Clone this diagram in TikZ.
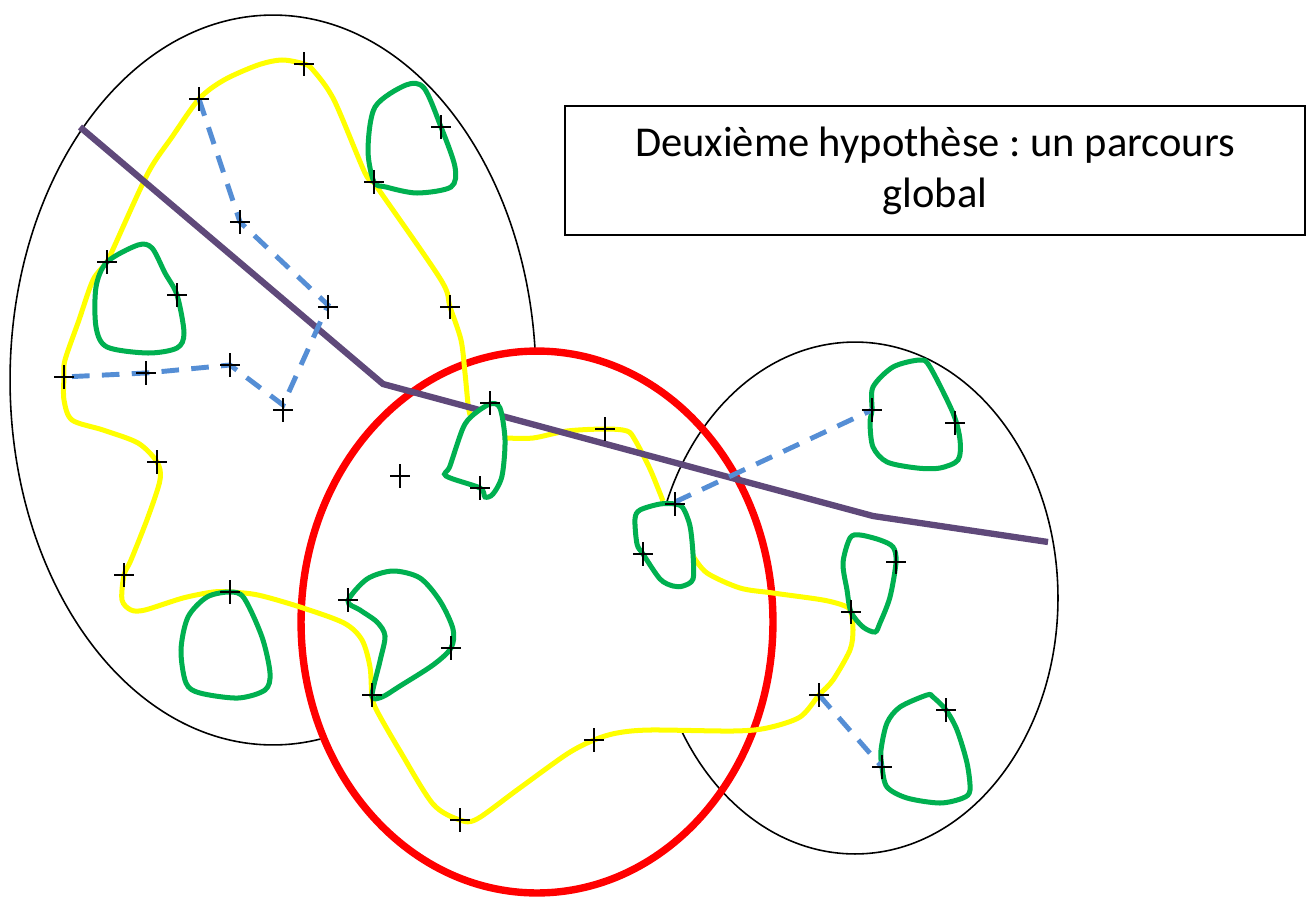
\documentclass[tikz,border=0pt]{standalone}
\usepackage{fontspec}
\setmainfont{Carlito}
\usepackage{tikz}
\frenchspacing
\definecolor{loopgreen}{HTML}{00B050}
\definecolor{pathblue}{HTML}{558ED5}
\definecolor{cutpurple}{HTML}{5F497A}
\definecolor{tourred}{HTML}{FF0000}
\definecolor{touryellow}{HTML}{FFFF00}

\begin{document}
\begin{tikzpicture}[x=0.02cm,y=-0.02cm,
    zone/.style={draw=black,line width=0.9pt},
    tour/.style={draw=touryellow,line width=2.85pt},
    loopline/.style={draw=loopgreen,fill=white,line width=2.85pt},
    link/.style={draw=pathblue,line width=2.8pt,dash pattern=on 10pt off 7pt},
    cutline/.style={draw=cutpurple,line width=3.6pt},
    crossline/.style={draw=black,line width=1.4pt},
    titlebox/.style={draw,line width=0.9pt,minimum width=14.8cm,
                     minimum height=2.58cm,align=center,
                     font=\fontsize{24.2}{29}\selectfont}]
    \useasboundingbox (0,0) rectangle (1307,899);

    % zones
    \draw[zone,fill=white] (273,380) ellipse [x radius=5.26cm,y radius=7.3cm];
    \fill[white] (537,622) ellipse [x radius=4.72cm,y radius=5.42cm];
    \draw[zone] (855,598) ellipse [x radius=4.06cm,y radius=5.12cm];

    % global tour
    \fill[white] plot[smooth cycle] coordinates {(507,438) (533,438) (567,431)
        (605,429) (627,431) (635,440) (650,469) (663,501) (693,556) (707,573)
        (740,588) (773,593) (823,600) (845,606) (851,612) (853,630) (850,650)
        (833,680) (819,695) (800,717) (767,728) (733,731) (650,730) (617,733)
        (594,740) (567,754) (517,790) (477,819) (460,820) (433,804) (400,751)
        (377,711) (372,696) (370,667) (362,640) (344,623) (300,607) (258,595)
        (230,592) (213,592) (183,598) (145,610) (131,610) (122,600) (124,575)
        (131,560) (148,517) (160,480) (157,462) (138,443) (103,430) (72,420)
        (64,400) (64,377) (65,360) (79,320) (93,280) (107,262) (114,247)
        (148,173) (172,137) (199,99) (224,80) (258,65) (282,60) (304,64)
        (313,70) (334,100) (365,173) (374,182) (379,190) (441,280) (450,307)
        (461,340) (465,373) (468,404) (470,415) (490,425)};
    \draw[draw=tourred,line width=4.2pt] (537,622) ellipse [x radius=4.72cm,y radius=5.42cm];
    \draw[tour] plot[smooth] coordinates {(507,438) (533,438) (567,431)
        (605,429) (627,431) (635,440) (650,469) (663,501)};
    \draw[tour] plot[smooth] coordinates {(693,556) (707,573)
        (740,588) (773,593) (823,600) (845,606) (851,612) (853,630) (850,650)
        (833,680) (819,695) (800,717) (767,728) (733,731) (650,730) (617,733)
        (594,740) (567,754) (517,790) (477,819) (460,820) (433,804) (400,751)
        (377,711) (372,696) (370,667) (362,640) (344,623) (300,607) (258,595)
        (230,592) (213,592) (183,598) (145,610) (131,610) (122,600) (124,575)
        (131,560) (148,517) (160,480) (157,462) (138,443) (103,430) (72,420)
        (64,400) (64,377) (65,360) (79,320) (93,280) (107,262) (114,247)
        (148,173) (172,137) (199,99) (224,80) (258,65) (282,60) (304,64)
        (313,70) (334,100) (365,173) (374,182) (379,190) (441,280) (450,307)
        (461,340) (465,373) (468,404) (470,415)};

    \draw[cutline] (80,127) -- (383,384) -- (873,516) -- (1048,542);

    % local loops
    \draw[loopline] plot[smooth cycle] coordinates {(374,182) (368,150) (375,107)
        (406,85) (424,88) (441,127) (455,167) (451,187) (417,193) (386,187)};
    \draw[loopline] plot[smooth cycle] coordinates {(107,262) (138,245) (152,248)
        (165,273) (177,295) (184,333) (177,348) (148,353) (107,347) (96,327) (96,287)};
    \draw[loopline] plot[smooth cycle] coordinates {(230,592) (244,598) (262,637)
        (270,673) (265,690) (238,698) (200,693) (186,683) (181,650) (188,617) (207,597)};
    \draw[loopline] plot[smooth cycle] coordinates {(490,404) (500,408) (505,440)
        (502,476) (493,494) (485,497) (480,488) (446,476) (450,466) (463,428) (473,415)};
    \draw[loopline] plot[smooth cycle] coordinates {(675,504) (683,508) (690,526)
        (693,554) (693,579) (683,586) (673,586) (660,579) (643,554) (637,544)
        (635,519) (640,510) (660,504)};
    \draw[loopline] plot[smooth cycle] coordinates {(372,696) (380,661) (385,636)
        (377,622) (360,610) (348,601) (367,579) (393,571) (420,578) (440,601)
        (453,629) (451,648) (433,665) (400,686) (382,697)};
    \draw[loopline] plot[smooth cycle] coordinates {(872,410) (873,387) (893,367)
        (920,360) (930,367) (953,413) (960,440) (958,460) (940,468) (917,468)
        (887,462) (873,447) (870,423)};
    \draw[loopline] plot[smooth cycle] coordinates {(896,562) (893,547) (880,540)
        (860,535) (850,538) (843,563) (847,590) (851,612) (863,627) (875,632)
        (880,623) (890,597)};
    \draw[loopline] plot[smooth cycle] coordinates {(946,710) (933,697) (927,695)
        (900,707) (887,723) (881,750) (882,767) (887,787) (907,798) (940,803)
        (963,798) (970,790) (967,763) (957,730)};

    % links between loops
    \draw[link] (199,99) -- (240,222) -- (328,305) -- (283,405) -- (230,365)
        -- (146,373) -- (63,377);
    \draw[link] (675,502) -- (872,410);
    \draw[link] (819,695) -- (882,767);

    % sites
    \foreach \cx/\cy in {304/64,199/99,441/127,374/182,240/222,107/262,177/295,
        328/307,450/307,230/365,146/373,64/377,283/410,490/403,605/429,400/476,
        480/488,157/462,675/504,643/554,124/575,230/592,348/600,451/648,372/695,
        594/740,460/820,872/410,955/423,896/562,851/612,819/695,946/710,882/767}
        \draw[crossline] (\cx-10,\cy) -- (\cx+10,\cy) (\cx,\cy-12) -- (\cx,\cy+12);

    \node[titlebox] (hyp) at (935,170.5) {Deuxième hypothèse : un parcours\\global};
\end{tikzpicture}
\end{document}
